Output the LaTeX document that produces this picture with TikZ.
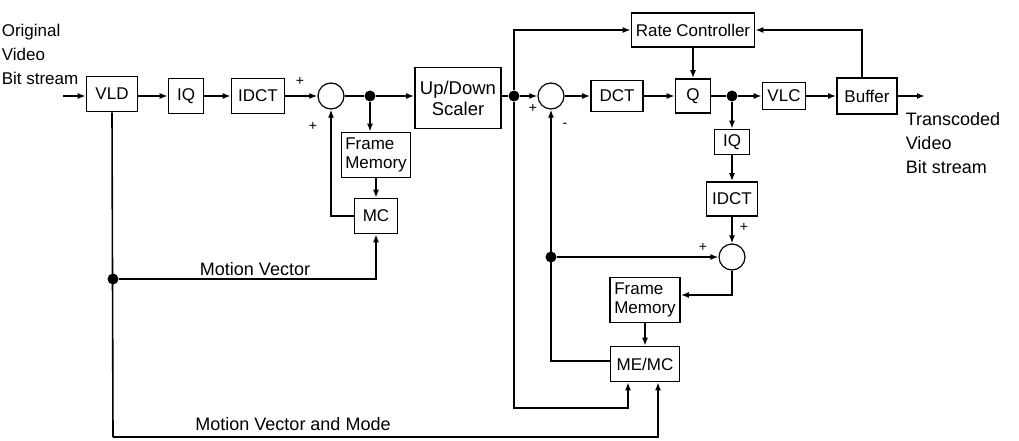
\documentclass[tikz,border=0pt]{standalone}
\usepackage{fontspec}
\setmainfont{Liberation Sans}
\usetikzlibrary{arrows.meta}

\begin{document}
\begin{tikzpicture}[x=1pt,y=-1pt,line width=1.6pt,>={Latex[length=8pt,width=6pt]},
  blk/.style={draw,line width=1.6pt,inner sep=0pt,font=\fontsize{17}{19}\selectfont},
  sumpt/.style={draw,circle,line width=1.2pt,minimum size=26pt,inner sep=0pt},
  dotpt/.style={circle,fill,inner sep=0pt,minimum size=11pt},
  sgn/.style={font=\fontsize{14}{14}\selectfont,inner sep=0pt},
  lbl/.style={font=\fontsize{18}{24}\selectfont,inner sep=0pt}]
\useasboundingbox (0,0) rectangle (1019,441);
% decoder part
\coordinate (in) at (63,96);
\node[blk,minimum width=51pt,minimum height=35pt] (vld) at (112,94) {VLD};
\node[blk,minimum width=35pt,minimum height=35pt] (iq1) at (186,96) {IQ};
\node[blk,minimum width=53pt,minimum height=35pt] (idct1) at (258,96) {IDCT};
\node[sumpt] (sum1) at (331,96) {};
\node[dotpt] (d1) at (370,96) {};
\node[blk,minimum width=69pt,minimum height=45pt,align=left] (fm1) at (376,155) {Frame\\Memory};
\node[blk,minimum width=43pt,minimum height=35pt] (mc1) at (376,216) {MC};
\node[blk,minimum width=86pt,minimum height=61pt,align=center,font=\fontsize{18.5}{21}\selectfont] (scaler) at (458,98) {Up/Down\\Scaler};
% encoder part
\node[dotpt] (d2) at (514,96) {};
\node[sumpt] (sum2) at (551,96) {};
\node[blk,minimum width=52pt,minimum height=31pt] (dct) at (617,96) {DCT};
\node[blk,minimum width=35pt,minimum height=34pt] (q) at (693,96) {Q};
\node[blk,minimum width=123pt,minimum height=34pt] (rc) at (693,30) {Rate Controller};
\node[dotpt] (d3) at (732,96) {};
\node[blk,minimum width=43pt,minimum height=27pt] (vlc) at (784,96) {VLC};
\node[blk,minimum width=60pt,minimum height=36pt] (buf) at (867,96) {Buffer};
\coordinate (out) at (925,96);
\node[blk,minimum width=35pt,minimum height=25pt] (iq2) at (732,142) {IQ};
\node[blk,minimum width=51pt,minimum height=34pt] (idct2) at (732,199) {IDCT};
\node[sumpt] (sum3) at (732,257) {};
\node[dotpt] (d4) at (551,257) {};
\node[blk,minimum width=70pt,minimum height=45pt,align=left] (fm2) at (645,300) {Frame\\Memory};
\node[blk,minimum width=69pt,minimum height=35pt] (memc) at (645,364) {ME/MC};
\node[dotpt] (d5) at (113,279) {};
\coordinate (b1) at (514,408);
\coordinate (b2) at (113,437);
% texts
\node[lbl,anchor=north west,align=left,font=\fontsize{17}{24}\selectfont] (src) at (1,23) {Original\\Video\\Bit stream};
\node[lbl,anchor=north west,align=left] (dst) at (905,112) {Transcoded\\Video\\Bit stream};
\node[lbl,anchor=base] (mvlbl) at (255,275) {Motion Vector};
\node[lbl,anchor=base] (mvmlbl) at (293,430) {Motion Vector and Mode};
\node[sgn] at (300,81) {+};
\node[sgn] at (313,126) {+};
\node[sgn] at (533,108) {+};
\node[sgn] at (565,125) {-};
\node[sgn] at (703,247) {+};
\node[sgn] at (744,227) {+};
% main path
\draw[->] (in) -- (in -| vld.west);
\draw[->] (vld.east |- iq1) -- (iq1);
\draw[->] (iq1) -- (idct1);
\draw[->] (idct1) -- (sum1);
\draw (sum1) -- (d1);
\draw[->] (d1) -- (d1 -| scaler.west);
\draw[->] (d1) -- (d1 |- fm1.north);
\draw[->] (fm1) -- (mc1);
\draw[->] (mc1.west) -| (sum1.south);
\draw (scaler.east |- d2) -- (d2);
\draw[->] (d2) -- (sum2);
\draw[->] (sum2) -- (dct);
\draw[->] (dct) -- (q);
\draw (q) -- (d3);
\draw[->] (d3) -- (vlc);
\draw[->] (vlc) -- (buf);
\draw[->] (buf) -- (out);
\draw[->] (rc) -- (q);
\draw[->] (d2) |- (rc.west);
\draw[->] ([xshift=-5pt]buf.north) |- (rc.east);
% reconstruction loop
\draw[->] (d3) -- (iq2);
\draw[->] (iq2) -- (idct2);
\draw[->] (idct2) -- (sum3);
\draw[->] (sum3.south) |- ([yshift=5pt]fm2.east);
\draw[->] (fm2) -- (memc);
\draw[->] ([yshift=3pt]memc.west) -| (sum2.south);
\draw[->] (d4) -- (sum3);
% motion vectors
\draw (vld.south) -- (b2);
\draw[->] (d5) -| (mc1.south);
\draw[->] (b2) -| ([xshift=13pt]memc.south);
\draw[->] (d2) -- (b1) -| ([xshift=-17pt]memc.south);
\end{tikzpicture}
\end{document}
